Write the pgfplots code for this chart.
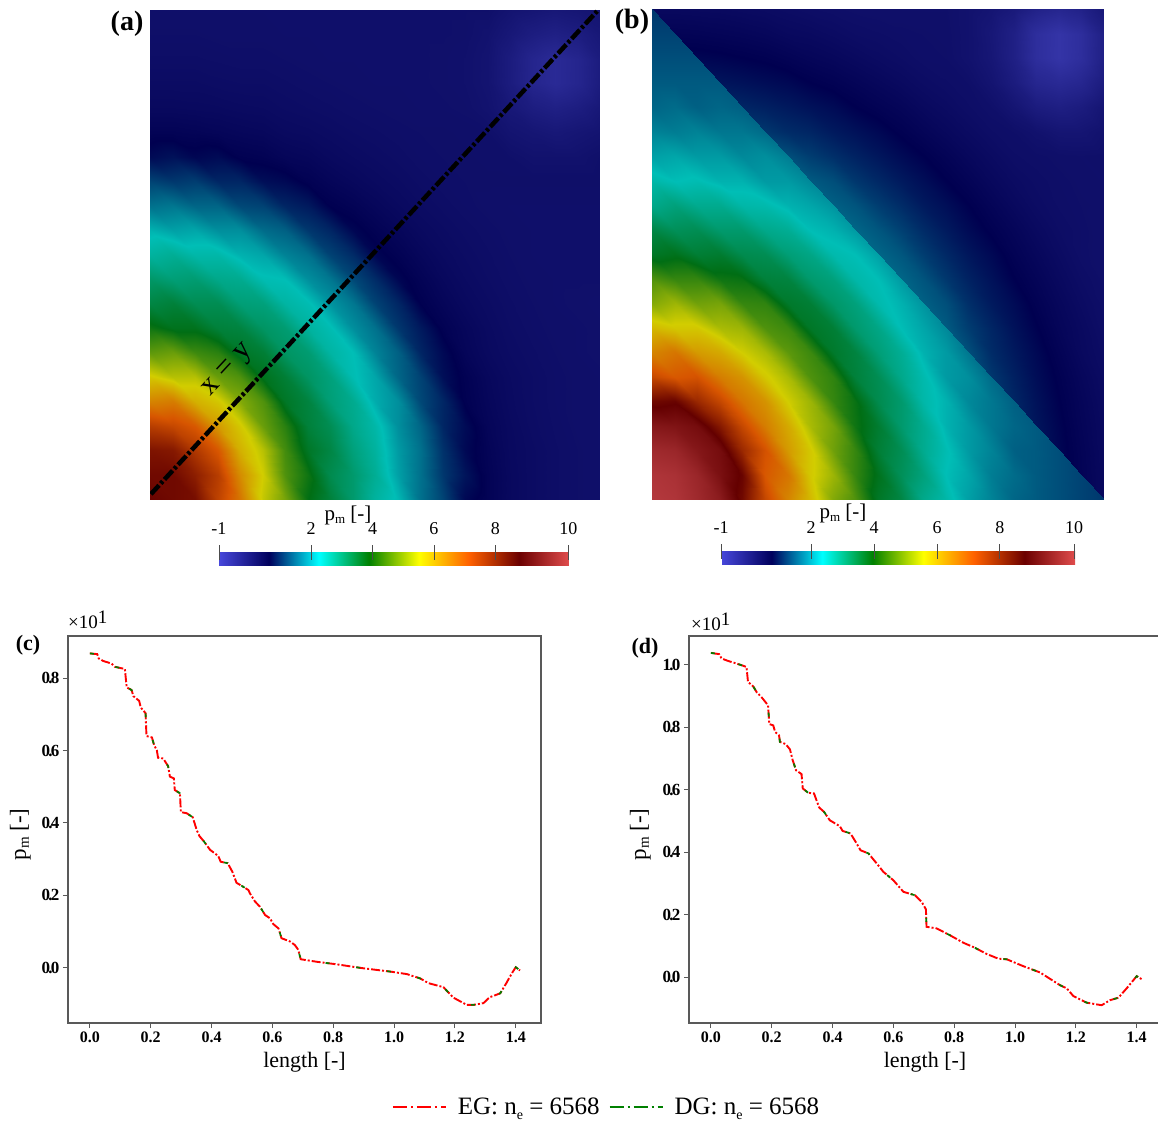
\documentclass[border=0pt]{standalone}
\usepackage{pgfplots}
\usepackage{fontspec}
\setmainfont{Liberation Serif}
\pgfplotsset{compat=1.18}
\newcommand{\fs}[1]{\fontsize{#1}{#1}\selectfont}
\newcommand{\pmlab}[2]{p\raisebox{-#2pt}{\fs{#1}m} [-]}
\newcommand{\nlab}{n\raisebox{-5pt}{\fs{14}e} = 6568}
\pgfplotsset{
 colormap={rd}{rgb255=(71,71,219); rgb255=(0,0,92); rgb255=(0,255,255); rgb255=(0,128,0); rgb255=(255,255,0); rgb255=(255,97,0); rgb255=(107,0,0); rgb255=(224,76,76)},
 colormap={rdh}{rgb255=(66,66,190); rgb255=(0,0,80); rgb255=(0,190,182); rgb255=(0,110,20); rgb255=(210,205,0); rgb255=(215,85,0); rgb255=(100,0,0); rgb255=(185,60,65)},
 hm/.style={scale only axis, axis lines=none, xmin=0,xmax=1,ymin=0,ymax=1, point meta min=-1, point meta max=10.4, view={0}{90}, colormap name=rdh, clip=true},
 cb/.style={colormap name=rd,scale only axis,height=13pt,xtick pos=upper,xticklabel pos=upper,tick align=center,major tick length=15pt,tick style={draw=black!70,line width=.8pt},
  axis line style={draw=none},xticklabel style={font=\fs{18},yshift=7pt},ytick=\empty},
 lp/.style={scale only axis, xmin=-0.072, xmax=1.483,
  axis line style={draw=black!65,line width=1.2pt}, tick style={draw=black!65,line width=1pt}, tick align=outside, major tick length=5pt,
  xtick={0,0.2,...,1.4}, xtick pos=lower, ytick pos=left,
  /pgf/number format/assume math mode=true, /pgf/number format/fixed, /pgf/number format/fixed zerofill, /pgf/number format/precision=1,
  xticklabel style={font=\bfseries\fs{16}},
  yticklabel style={font=\bfseries\fs{17}\addfontfeature{LetterSpace=-10}},
  xlabel={length [-]}, xlabel style={font=\fs{22},yshift=-3pt},ylabel style={font=\fs{23}},
  legend image code/.code={\draw[#1,line width=2pt] (0,0)--(53pt,0);}},
 eg/.style={red,line width=1.9pt,dash pattern=on 9pt off 2pt on 2pt off 2pt},
 dg/.style={green!50!black,line width=1.7pt,dash pattern=on 4pt off 27pt},
 egl/.style={red,dash pattern=on 14pt off 4pt on 2pt off 4pt},
 dgl/.style={green!50!black,dash pattern=on 14pt off 4pt on 2pt off 4pt}
}
\begin{document}
\begin{tikzpicture}[x=1pt,y=1pt]
\useasboundingbox (0,0) rectangle (1158,-1124);
\begin{axis}[hm,at={(150pt,-499pt)},anchor=south west,width=450pt,height=489pt,
 colorbar horizontal, colorbar style={cb,at={(0.1533,-0.1104)},anchor=north west,width=350pt,
  xtick={-1,2,4,6,8,10.38},xticklabels={-1,2,4,6,8,10}}]
\addplot3[surf,shader=interp,mesh/cols=22] table[header=false,row sep=\\,x expr={(mod(\coordindex,22)-1)*0.05},y expr={floor(\coordindex/22)*0.05},z expr=\thisrowno{0}]{
8.7\\8.7\\8.6\\8.5\\7.5\\6.7\\5.4\\4.8\\3.9\\3.5\\3.0\\2.5\\2.2\\1.6\\1.2\\.7\\.55\\.42\\.35\\.3\\.27\\.25\\
8.6\\8.6\\8.6\\8.2\\7.6\\6.4\\5.5\\4.5\\4.0\\3.3\\3.0\\2.6\\2.0\\1.6\\1.1\\.8\\.55\\.42\\.35\\.3\\.27\\.25\\
8.4\\8.4\\8.3\\7.7\\7.1\\5.9\\5.3\\4.4\\3.7\\3.4\\2.85\\2.5\\1.95\\1.6\\1.05\\.7\\.53\\.41\\.35\\.3\\.27\\.25\\
7.6\\7.6\\7.4\\7.1\\6.2\\5.6\\4.7\\4.2\\3.5\\3.25\\2.7\\2.4\\1.85\\1.5\\.95\\.72\\.5\\.4\\.33\\.29\\.26\\.25\\
6.5\\6.5\\6.6\\5.9\\5.6\\4.9\\4.5\\3.7\\3.45\\2.9\\2.65\\2.1\\1.85\\1.25\\.95\\.6\\.47\\.38\\.32\\.28\\.26\\.25\\
5.6\\5.6\\5.3\\5.3\\4.7\\4.5\\3.8\\3.55\\3.1\\2.85\\2.3\\2.05\\1.5\\1.2\\.75\\.58\\.45\\.37\\.32\\.28\\.26\\.25\\
4.6\\4.6\\4.7\\4.35\\4.2\\3.7\\3.55\\3.1\\2.95\\2.45\\2.25\\1.75\\1.45\\.95\\.7\\.5\\.4\\.34\\.3\\.27\\.25\\.24\\
4.0\\4.0\\3.8\\3.8\\3.5\\3.45\\3.1\\2.95\\2.5\\2.3\\1.85\\1.6\\1.1\\.85\\.58\\.47\\.38\\.32\\.28\\.26\\.25\\.24\\
3.4\\3.4\\3.5\\3.25\\3.25\\2.9\\2.85\\2.45\\2.3\\1.9\\1.65\\1.2\\.95\\.62\\.5\\.41\\.35\\.3\\.27\\.25\\.24\\.23\\
3.05\\3.05\\2.9\\2.95\\2.7\\2.65\\2.3\\2.25\\1.85\\1.65\\1.25\\1.0\\.68\\.55\\.44\\.37\\.32\\.28\\.26\\.25\\.25\\.25\\
2.5\\2.5\\2.6\\2.4\\2.4\\2.15\\2.05\\1.75\\1.6\\1.2\\1.0\\.68\\.57\\.47\\.39\\.34\\.3\\.27\\.25\\.25\\.25\\.25\\
2.15\\2.15\\2.0\\2.05\\1.85\\1.85\\1.55\\1.45\\1.1\\.95\\.68\\.57\\.48\\.4\\.35\\.31\\.28\\.26\\.25\\.25\\.25\\.25\\
1.6\\1.6\\1.65\\1.5\\1.5\\1.25\\1.2\\.95\\.85\\.62\\.55\\.47\\.4\\.35\\.31\\.28\\.26\\.25\\.25\\.25\\.25\\.25\\
1.2\\1.2\\1.1\\1.15\\.95\\.95\\.75\\.7\\.58\\.5\\.44\\.39\\.35\\.31\\.28\\.27\\.27\\.27\\.27\\.27\\.27\\.27\\
.72\\.72\\.78\\.68\\.72\\.6\\.57\\.5\\.47\\.41\\.37\\.34\\.31\\.28\\.27\\.27\\.26\\.25\\.2\\.2\\.2\\.25\\
.55\\.55\\.55\\.53\\.5\\.47\\.45\\.4\\.38\\.35\\.32\\.3\\.28\\.27\\.27\\.26\\.25\\.15\\.1\\.05\\.1\\.15\\
.42\\.42\\.42\\.41\\.4\\.38\\.37\\.34\\.32\\.3\\.28\\.27\\.26\\.25\\.25\\.24\\.18\\.05\\-.08\\-.15\\-.08\\.05\\
.35\\.35\\.35\\.35\\.33\\.32\\.32\\.3\\.28\\.27\\.26\\.25\\.25\\.25\\.24\\.22\\.15\\-.05\\-.28\\-.4\\-.28\\-.05\\
.3\\.3\\.3\\.3\\.29\\.28\\.28\\.27\\.26\\.25\\.25\\.25\\.25\\.25\\.24\\.22\\.15\\-.05\\-.28\\-.4\\-.28\\-.05\\
.27\\.27\\.27\\.27\\.26\\.26\\.26\\.25\\.25\\.25\\.25\\.25\\.25\\.25\\.25\\.24\\.18\\.05\\-.08\\-.15\\-.08\\.05\\
.25\\.25\\.25\\.25\\.25\\.25\\.25\\.25\\.25\\.25\\.25\\.25\\.25\\.25\\.25\\.25\\.25\\.15\\.1\\.05\\.1\\.15\\
};
\addplot[black,line width=4.5pt,dash pattern=on 12pt off 2.5pt on 3pt off 2.5pt] coordinates {(0.002,0.01)(0.994,0.998)};
\end{axis}
\begin{axis}[hm,at={(652pt,-499pt)},anchor=south west,width=452pt,height=490pt,
 colorbar horizontal, colorbar style={cb,at={(0.1527,-0.108)},anchor=north west,width=354pt,
  xtick={-1,1.9,3.93,5.96,7.98,10.37},xticklabels={-1,2,4,6,8,10}}]
\addplot3[surf,shader=interp,mesh/cols=21] table[header=false,row sep=\\,x expr={max(mod(\coordindex,21)*0.05,1-floor(\coordindex/21)*0.05)},y expr={floor(\coordindex/21)*0.05},z expr=\thisrowno{0}]{
.42\\.42\\.42\\.42\\.42\\.42\\.42\\.42\\.42\\.42\\.42\\.42\\.42\\.42\\.42\\.42\\.42\\.42\\.42\\.42\\.42\\
.55\\.55\\.55\\.55\\.55\\.55\\.55\\.55\\.55\\.55\\.55\\.55\\.55\\.55\\.55\\.55\\.55\\.55\\.55\\.55\\.42\\
.68\\.68\\.68\\.68\\.68\\.68\\.68\\.68\\.68\\.68\\.68\\.68\\.68\\.68\\.68\\.68\\.68\\.68\\.68\\.54\\.41\\
.81\\.81\\.81\\.81\\.81\\.81\\.81\\.81\\.81\\.81\\.81\\.81\\.81\\.81\\.81\\.81\\.81\\.81\\.66\\.52\\.4\\
.95\\.95\\.95\\.95\\.95\\.95\\.95\\.95\\.95\\.95\\.95\\.95\\.95\\.95\\.95\\.95\\.95\\.78\\.63\\.5\\.38\\
1.1\\1.1\\1.1\\1.1\\1.1\\1.1\\1.1\\1.1\\1.1\\1.1\\1.1\\1.1\\1.1\\1.1\\1.1\\1.1\\.9\\.74\\.6\\.47\\.36\\
1.3\\1.3\\1.3\\1.3\\1.3\\1.3\\1.3\\1.3\\1.3\\1.3\\1.3\\1.3\\1.3\\1.3\\1.3\\1\\.84\\.7\\.55\\.42\\.33\\
1.4\\1.4\\1.4\\1.4\\1.4\\1.4\\1.4\\1.4\\1.4\\1.4\\1.4\\1.4\\1.4\\1.4\\1.15\\.95\\.78\\.64\\.5\\.4\\.3\\
1.45\\1.45\\1.45\\1.45\\1.45\\1.45\\1.45\\1.45\\1.45\\1.45\\1.45\\1.45\\1.45\\1.3\\1.03\\.85\\.72\\.58\\.46\\.36\\.28\\
1.5\\1.5\\1.5\\1.5\\1.5\\1.5\\1.5\\1.5\\1.5\\1.5\\1.5\\1.5\\1.35\\1.1\\.92\\.78\\.63\\.52\\.41\\.32\\.26\\
1.5\\1.5\\1.5\\1.5\\1.5\\1.5\\1.5\\1.5\\1.5\\1.5\\1.5\\1.37\\1.15\\.97\\.82\\.7\\.56\\.46\\.36\\.28\\.25\\
1.5\\1.5\\1.5\\1.5\\1.5\\1.5\\1.5\\1.5\\1.5\\1.5\\1.37\\1.18\\1\\.85\\.72\\.6\\.5\\.4\\.32\\.28\\.25\\
1.45\\1.45\\1.45\\1.45\\1.45\\1.45\\1.45\\1.45\\1.45\\1.35\\1.15\\1\\.85\\.75\\.63\\.52\\.42\\.34\\.29\\.27\\.26\\
1.4\\1.4\\1.4\\1.4\\1.4\\1.4\\1.4\\1.4\\1.3\\1.1\\.97\\.85\\.75\\.63\\.54\\.44\\.36\\.31\\.28\\.26\\.25\\
1.3\\1.3\\1.3\\1.3\\1.3\\1.3\\1.3\\1.15\\1.03\\.92\\.82\\.72\\.63\\.54\\.45\\.37\\.3\\.28\\.26\\.25\\.26\\
1.1\\1.1\\1.1\\1.1\\1.1\\1.1\\1\\.95\\.85\\.78\\.7\\.6\\.52\\.44\\.37\\.3\\.27\\.2\\.12\\.12\\.2\\
.95\\.95\\.95\\.95\\.95\\.9\\.84\\.78\\.72\\.63\\.56\\.5\\.42\\.36\\.3\\.25\\.12\\-.05\\-.12\\-.05\\.12\\
.81\\.81\\.81\\.81\\.78\\.74\\.7\\.63\\.58\\.52\\.46\\.4\\.34\\.3\\.27\\.15\\-.05\\-.3\\-.38\\-.3\\-.05\\
.68\\.68\\.68\\.66\\.63\\.6\\.55\\.5\\.46\\.41\\.36\\.32\\.28\\.27\\.2\\.08\\-.15\\-.5\\-.65\\-.5\\-.15\\
.55\\.55\\.54\\.52\\.5\\.47\\.42\\.4\\.36\\.32\\.3\\.28\\.27\\.26\\.2\\.06\\-.15\\-.5\\-.65\\-.5\\-.15\\
.42\\.42\\.41\\.4\\.38\\.36\\.33\\.3\\.28\\.26\\.25\\.25\\.25\\.25\\.2\\.12\\0\\-.2\\-.3\\-.2\\.05\\
};
\addplot3[surf,shader=interp,mesh/cols=22] table[header=false,row sep=\\,x expr={min((mod(\coordindex,22)-1)*0.05,1-floor(\coordindex/22)*0.05)},y expr={floor(\coordindex/22)*0.05},z expr=\thisrowno{0}]{
10.3\\10.3\\10.2\\9.9\\9.5\\8.6\\7.4\\6.5\\5.8\\4.9\\4.5\\3.7\\3.4\\2.7\\2.4\\2.0\\1.75\\1.5\\1.4\\1.3\\1.2\\1.1\\
10.2\\10.2\\10.1\\9.8\\9.2\\8.7\\7.1\\6.7\\5.6\\5.1\\4.3\\3.8\\3.2\\2.85\\2.25\\2.05\\1.7\\1.55\\1.4\\1.3\\1.2\\1.2\\
9.9\\9.9\\9.8\\9.4\\9.1\\8.0\\7.2\\6.2\\5.6\\4.75\\4.3\\3.55\\3.25\\2.65\\2.3\\1.95\\1.75\\1.45\\1.4\\1.3\\1.3\\1.3\\
9.4\\9.4\\9.3\\9.1\\8.3\\7.4\\6.6\\6.0\\5.2\\4.8\\4.0\\3.6\\3.0\\2.65\\2.15\\1.95\\1.65\\1.5\\1.4\\1.4\\1.4\\1.4\\
8.6\\8.6\\8.7\\8.0\\7.4\\6.7\\6.3\\5.5\\5.1\\4.3\\3.95\\3.3\\3.0\\2.4\\2.15\\1.8\\1.65\\1.45\\1.45\\1.45\\1.45\\1.45\\
7.4\\7.4\\7.1\\7.2\\6.6\\6.3\\5.6\\5.2\\4.5\\4.25\\3.5\\3.25\\2.7\\2.35\\1.95\\1.85\\1.55\\1.55\\1.55\\1.55\\1.55\\1.55\\
6.5\\6.5\\6.7\\6.2\\6.0\\5.5\\5.2\\4.6\\4.35\\3.65\\3.45\\2.9\\2.6\\2.15\\1.95\\1.65\\1.7\\1.7\\1.7\\1.7\\1.7\\1.7\\
5.8\\5.8\\5.6\\5.6\\5.2\\5.1\\4.5\\4.35\\3.7\\3.55\\3.0\\2.75\\2.25\\2.05\\1.8\\1.8\\1.8\\1.8\\1.8\\1.8\\1.8\\1.8\\
4.9\\4.9\\5.1\\4.75\\4.8\\4.3\\4.25\\3.65\\3.55\\3.05\\2.85\\2.35\\2.15\\1.9\\1.9\\1.9\\1.9\\1.9\\1.9\\1.9\\1.9\\1.9\\
4.5\\4.5\\4.3\\4.3\\4.0\\3.95\\3.5\\3.45\\3.0\\2.85\\2.4\\2.25\\1.95\\1.95\\1.95\\1.95\\1.95\\1.95\\1.95\\1.95\\1.95\\1.95\\
3.7\\3.7\\3.8\\3.55\\3.6\\3.3\\3.25\\2.9\\2.75\\2.35\\2.25\\2\\2\\2\\2\\2\\2\\2\\2\\2\\2\\2\\
3.4\\3.4\\3.2\\3.25\\3.0\\3.0\\2.7\\2.6\\2.25\\2.15\\1.95\\1.95\\1.95\\1.95\\1.95\\1.95\\1.95\\1.95\\1.95\\1.95\\1.95\\1.95\\
2.7\\2.7\\2.85\\2.65\\2.65\\2.4\\2.35\\2.15\\2.05\\1.9\\1.9\\1.9\\1.9\\1.9\\1.9\\1.9\\1.9\\1.9\\1.9\\1.9\\1.9\\1.9\\
2.4\\2.4\\2.25\\2.3\\2.15\\2.15\\1.95\\1.95\\1.8\\1.8\\1.8\\1.8\\1.8\\1.8\\1.8\\1.8\\1.8\\1.8\\1.8\\1.8\\1.8\\1.8\\
2\\2\\2.05\\1.95\\1.95\\1.8\\1.85\\1.7\\1.7\\1.7\\1.7\\1.7\\1.7\\1.7\\1.7\\1.7\\1.7\\1.7\\1.7\\1.7\\1.7\\1.7\\
1.75\\1.75\\1.7\\1.75\\1.65\\1.65\\1.55\\1.55\\1.55\\1.55\\1.55\\1.55\\1.55\\1.55\\1.55\\1.55\\1.55\\1.55\\1.55\\1.55\\1.55\\1.55\\
1.5\\1.5\\1.55\\1.45\\1.5\\1.45\\1.45\\1.45\\1.45\\1.45\\1.45\\1.45\\1.45\\1.45\\1.45\\1.45\\1.45\\1.45\\1.45\\1.45\\1.45\\1.45\\
1.4\\1.4\\1.4\\1.4\\1.4\\1.4\\1.4\\1.4\\1.4\\1.4\\1.4\\1.4\\1.4\\1.4\\1.4\\1.4\\1.4\\1.4\\1.4\\1.4\\1.4\\1.4\\
1.3\\1.3\\1.3\\1.3\\1.3\\1.3\\1.3\\1.3\\1.3\\1.3\\1.3\\1.3\\1.3\\1.3\\1.3\\1.3\\1.3\\1.3\\1.3\\1.3\\1.3\\1.3\\
1.2\\1.2\\1.2\\1.2\\1.2\\1.2\\1.2\\1.2\\1.2\\1.2\\1.2\\1.2\\1.2\\1.2\\1.2\\1.2\\1.2\\1.2\\1.2\\1.2\\1.2\\1.2\\
1.1\\1.1\\1.1\\1.1\\1.1\\1.1\\1.1\\1.1\\1.1\\1.1\\1.1\\1.1\\1.1\\1.1\\1.1\\1.1\\1.1\\1.1\\1.1\\1.1\\1.1\\1.1\\
};
\end{axis}
\pgfplotstableread{
0 .868
.024 .866
.029 .854
.044 .847
.071 .840
.082 .831
.115 .825
.118 .799
.121 .774
.137 .767
.143 .750
.162 .737
.167 .719
.183 .703
.186 .640
.204 .636
.211 .615
.220 .601
.224 .580
.241 .578
.257 .557
.263 .528
.276 .523
.279 .491
.296 .482
.299 .430
.318 .427
.338 .416
.351 .381
.360 .364
.375 .349
.395 .326
.422 .309
.430 .293
.453 .289
.468 .266
.482 .235
.504 .224
.521 .215
.526 .206
.543 .183
.559 .169
.576 .146
.592 .137
.603 .121
.620 .109
.630 .082
.658 .073
.674 .063
.685 .050
.693 .024
.746 .017
.811 .010
.899 -.001
.987 -.010
1.042 -.017
1.086 -.029
1.113 -.042
1.162 -.053
1.195 -.082
1.239 -.102
1.261 -.102
1.294 -.097
1.314 -.081
1.349 -.070
1.369 -.042
1.387 -.015
1.400 .002
1.414 -.007
}\curvec
\pgfplotstableread{
0 1.038
.027 1.034
.035 1.020
.057 1.012
.084 1.004
.117 .993
.122 .945
.139 .931
.150 .913
.170 .892
.188 .870
.192 .810
.205 .806
.211 .785
.224 .774
.227 .753
.246 .746
.260 .729
.269 .694
.280 .662
.298 .650
.302 .604
.320 .590
.339 .588
.356 .543
.372 .529
.391 .502
.424 .483
.433 .468
.459 .460
.479 .428
.492 .406
.518 .396
.545 .364
.567 .337
.600 .310
.633 .273
.671 .262
.693 .241
.707 .217
.709 .161
.742 .156
.786 .134
.830 .110
.868 .094
.907 .074
.945 .059
.973 .057
1.027 .035
1.082 .015
1.148 -.026
1.170 -.036
1.192 -.061
1.236 -.082
1.285 -.090
1.312 -.074
1.340 -.066
1.367 -.036
1.400 .003
1.417 -.007
}\curved
\begin{axis}[lp,at={(68pt,-1023pt)},anchor=south west,width=473pt,height=387pt,ymin=-0.152,ymax=0.916,ytick={0,0.2,...,0.8},ylabel={\pmlab{15}{3}},ylabel style={yshift=4pt,xshift=-5pt},
 legend style={draw=none,fill=none,at={(1.1385,-0.217)},anchor=center,legend columns=2,font=\fs{25},/tikz/every even column/.append style={column sep=7pt}}]
\addlegendimage{egl}\addlegendentry{\hspace{9pt}EG: \nlab}
\addlegendimage{dgl}\addlegendentry{\hspace{9pt}DG: \nlab}
\addplot[eg,forget plot] table {\curvec};
\addplot[dg,forget plot] table {\curvec};
\end{axis}
\begin{axis}[lp,at={(689pt,-1023pt)},anchor=south west,width=472pt,height=387pt,xmax=1.48,ymin=-0.147,ymax=1.092,ytick={0,0.2,...,1.0},ylabel={\pmlab{15}{3}},ylabel style={yshift=5pt,xshift=-5pt}]
\addplot[eg] table {\curved};
\addplot[dg] table {\curved};
\end{axis}
\node at (127,-24) {\bfseries\fs{28}(a)};
\node at (632,-22) {\bfseries\fs{28}(b)};
\node at (28,-645) {\bfseries\fs{22}(c)};
\node at (645,-648) {\bfseries\fs{22}(d)};
\node[rotate=47] at (229,-371) {\fs{30}x = y};
\node at (348,-515) {\fs{21}\pmlab{13}{3}};
\node at (843,-513) {\fs{21}\pmlab{13}{3}};
\node[anchor=west,inner sep=0] at (68,-620) {\fs{19}×10\raisebox{5pt}{\fs{19}1}};
\node[anchor=west,inner sep=0] at (691,-622) {\fs{19}×10\raisebox{5pt}{\fs{19}1}};
\end{tikzpicture}
\end{document}
